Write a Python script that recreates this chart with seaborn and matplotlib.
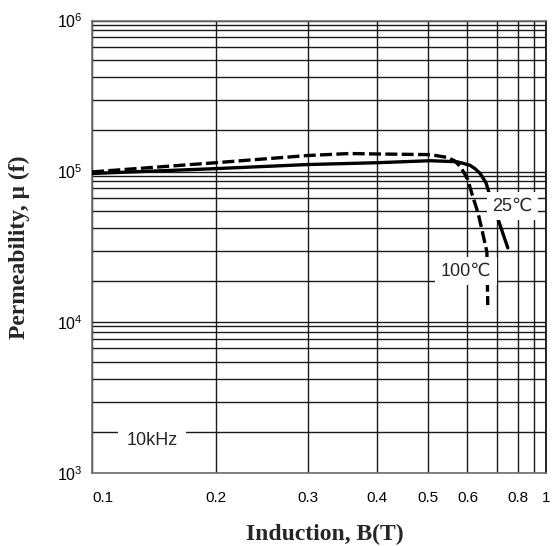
import numpy as np
import pandas as pd
import matplotlib
matplotlib.use("Agg")
import matplotlib.pyplot as plt
import matplotlib.ticker as mticker
import seaborn as sns

# ---- data -------------------------------------------------------------
B_25C = [0.1, 0.2, 0.3, 0.4, 0.505, 0.571, 0.587, 0.608, 0.624, 0.641, 0.661,
         0.67, 0.703, 0.726, 0.75]
MU_25C = [9.5e4, 1.05e5, 1.125e5, 1.16e5, 1.20e5, 1.18e5, 1.15e5, 1.11e5, 1.05e5,
          9.5e4, 7.7e4, 6.6e4, 4.55e4, 3.75e4, 3.11e4]

B_100C = [0.1, 0.2, 0.3, 0.357, 0.4, 0.505, 0.546, 0.565, 0.58, 0.591, 0.601, 0.617,
          0.634, 0.647, 0.657, 0.664, 0.666, 0.667]
MU_100C = [9.9e4, 1.16e5, 1.31e5, 1.355e5, 1.345e5, 1.33e5, 1.27e5, 1.2e5, 1.09e5,
           9.6e4, 8.2e4, 6.07e4, 4.86e4, 3.9e4, 3.31e4, 2.95e4, 1.82e4, 1.34e4]

X_TICKS = [0.1, 0.2, 0.3, 0.4, 0.5, 0.6, 0.7, 0.8, 0.9, 1.0]
X_LABELS = ["0.1", "0.2", "0.3", "0.4", "0.5", "0.6", "", "0.8", "", "1"]
Y_TICKS = [1e3, 1e4, 1e5, 1e6]
Y_LABELS = [r"$10^{3}$", r"$10^{4}$", r"$10^{5}$", r"$10^{6}$"]

# ---- chart-paper style log scale ---------------------------------------
# Grid lines inside each decade are spaced as on the printed log paper.
LOGM = np.log10(np.arange(1, 11))
FRAC = np.array([0.0, 0.272, 0.475, 0.627, 0.740, 0.827, 0.892, 0.938, 0.973, 1.0])


def paper_forward(v):
    v = np.asarray(v, dtype=float)
    with np.errstate(divide="ignore", invalid="ignore"):
        lg = np.log10(np.where(v > 0, v, 1e-300))
    d = np.floor(lg + 1e-12)
    return d + np.interp(lg - d, LOGM, FRAC)


def paper_inverse(p):
    p = np.asarray(p, dtype=float)
    d = np.floor(p + 1e-12)
    return 10.0 ** (d + np.interp(p - d, FRAC, LOGM))


sns.set_style("white")
plt.rcParams["font.family"] = ["Liberation Sans", "DejaVu Sans"]
plt.rcParams["mathtext.fontset"] = "custom"
plt.rcParams["mathtext.rm"] = "Liberation Sans"
plt.rcParams["mathtext.it"] = "Liberation Sans:italic"

df = pd.concat([
    pd.DataFrame({"B": B_25C, "mu": MU_25C, "T": "25℃"}),
    pd.DataFrame({"B": B_100C, "mu": MU_100C, "T": "100℃"}),
], ignore_index=True)

fig = plt.figure(figsize=(5.52, 5.46), dpi=100)
ax = fig.add_axes([0.1667, 0.1332, 0.8225, 0.829])

ax.set_xscale("function", functions=(paper_forward, paper_inverse))
ax.set_yscale("function", functions=(paper_forward, paper_inverse))

sns.lineplot(data=df, x="B", y="mu", style="T",
             dashes={"25℃": "", "100℃": (3.6, 1.3)},
             color="black", linewidth=2.4, legend=False,
             sort=False, estimator=None, ax=ax, zorder=3)

ax.set_xlim(0.1, 1.0)
ax.set_ylim(1e3, 1e6)

# grid of the log paper
ax.xaxis.set_major_locator(mticker.FixedLocator(X_TICKS))
ax.xaxis.set_major_formatter(mticker.FixedFormatter(X_LABELS))
ax.xaxis.set_minor_locator(mticker.NullLocator())
ax.yaxis.set_major_locator(mticker.FixedLocator(Y_TICKS))
ax.yaxis.set_major_formatter(mticker.FixedFormatter(Y_LABELS))
ax.yaxis.set_minor_locator(mticker.FixedLocator(
    [m * 10.0 ** e for e in (3, 4, 5) for m in range(2, 10)]))
ax.yaxis.set_minor_formatter(mticker.NullFormatter())

ax.grid(True, which="both", axis="both", color="#1a1a1a", linewidth=1.0)
ax.set_axisbelow(True)

ax.tick_params(axis="x", which="both", length=0, pad=13, labelsize=11, colors="black")
ax.tick_params(axis="y", which="major", direction="in", length=7, width=1.6,
               pad=7, labelsize=11.5, colors="black")
ax.tick_params(axis="y", which="minor", length=0)
xt = ax.get_xticklabels()
xt[0].set_horizontalalignment("left")

for side in ("left", "bottom", "top"):
    ax.spines[side].set_color("#6e6e6e")
    ax.spines[side].set_linewidth(1.2)
ax.spines["right"].set_color("black")
ax.spines["right"].set_linewidth(1.2)

serif = ["Liberation Serif", "DejaVu Serif"]
ax.set_xlabel("Induction, B(T)", family=serif, fontweight="bold", fontsize=17)
ax.set_ylabel("Permeability, μ (f)", family=serif, fontweight="bold", fontsize=17)
ax.xaxis.label.set_va("center")
ax.yaxis.label.set_va("center")
ax.xaxis.set_label_coords(0.513, -0.136)
ax.yaxis.set_label_coords(-0.161, 0.5)

box = dict(boxstyle="square,pad=0.3", facecolor="white", edgecolor="none")
ax.text(0.771, 5.35e4, "25℃", fontsize=13, ha="center", va="center",
        bbox=box, zorder=5)
ax.text(0.596, 2.3e4, "100℃", fontsize=13, ha="center", va="center",
        bbox=box, zorder=5)
ax.text(0.14, 1.73e3, "10kHz", fontsize=13, ha="center", va="center",
        bbox=dict(boxstyle="square,pad=0.45", facecolor="white", edgecolor="none"),
        zorder=5)

fig.savefig("out.png", dpi=100)
